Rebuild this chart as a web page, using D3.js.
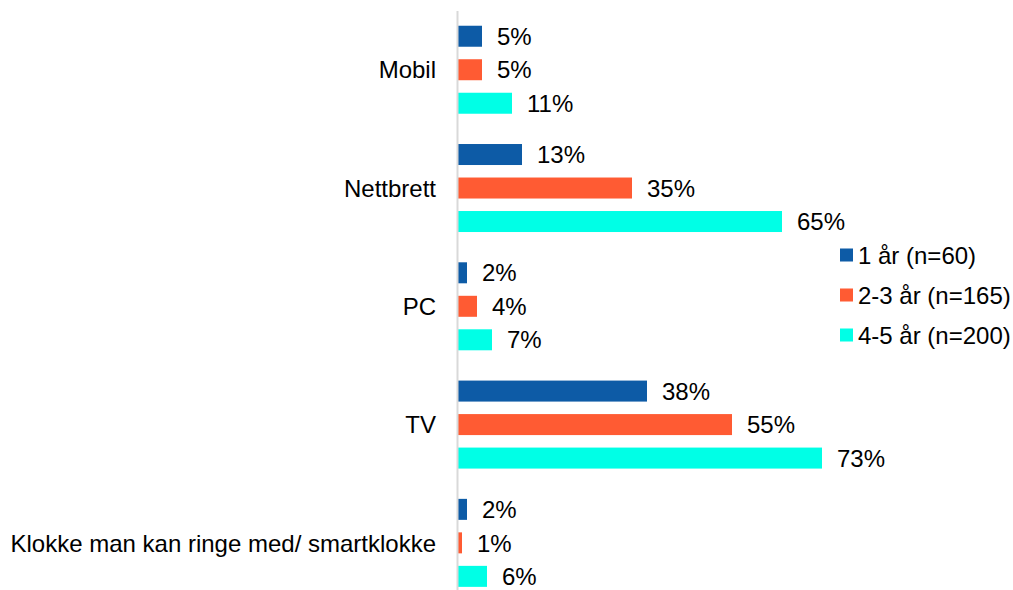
<!DOCTYPE html>
<html>
<head>
<meta charset="utf-8">
<script src="https://cdn.jsdelivr.net/npm/d3@7"></script>
<style>
  body { margin: 0; background: #fff; }
  text { font-family: "Liberation Sans", Arial, sans-serif; fill: #000; }
</style>
</head>
<body>
<div id="chart"></div>
<script>
var categories = ['Mobil', 'Nettbrett', 'PC', 'TV', 'Klokke man kan ringe med/ smartklokke'];
var seriesNames = ['1 år (n=60)', '2-3 år (n=165)', '4-5 år (n=200)'];
var ar1 = [5, 13, 2, 38, 2];
var ar23 = [5, 35, 4, 55, 1];
var ar45 = [11, 65, 7, 73, 6];
var colors = ['#0D5BA6', '#FF5B33', '#00FFE6'];

var width = 1013, height = 590;
var seriesValues = [ar1, ar23, ar45];
var fontSize = '24px';

var svg = d3.select('#chart')
    .append('svg')
    .attr('width', width)
    .attr('height', height);

var x = d3.scaleLinear().domain([0, 100]).range([457, 957]);
var y = d3.scaleBand().domain(categories).range([10.6, 602]).padding(0);
var inner = d3.scalePoint().domain(seriesNames).range([-33.5, 33.5]);
var barH = 21;

var rows = [];
categories.forEach(function (c, i) {
    seriesNames.forEach(function (s, j) {
        rows.push({ cat: c, series: s, idx: j, value: seriesValues[j][i] });
    });
});

function cy(d) { return y(d.cat) + y.bandwidth() / 2 + inner(d.series); }

svg.selectAll('rect.bar')
    .data(rows)
    .enter()
    .append('rect')
    .attr('class', 'bar')
    .attr('x', x(0))
    .attr('y', function (d) { return cy(d) - barH / 2; })
    .attr('width', function (d) { return x(d.value) - x(0); })
    .attr('height', barH)
    .attr('fill', function (d) { return colors[d.idx]; });

svg.selectAll('text.val')
    .data(rows)
    .enter()
    .append('text')
    .attr('class', 'val')
    .attr('x', function (d) { return x(d.value) + 15; })
    .attr('y', function (d) { return cy(d); })
    .attr('dy', '0.36em')
    .style('font-size', fontSize)
    .text(function (d) { return d.value + '%'; });

// category axis
var yAxis = d3.axisLeft(y).tickSize(0).tickPadding(21);
var gAxis = svg.append('g')
    .attr('transform', 'translate(' + x(0) + ',0)')
    .call(yAxis);
gAxis.attr('font-family', null);
gAxis.select('.domain').attr('stroke', '#d9d9d9').attr('stroke-width', 2);
gAxis.selectAll('text').style('font-size', fontSize).attr('dy', '0.36em');

// legend
var legend = svg.append('g').attr('transform', 'translate(840,255)');
var item = legend.selectAll('g')
    .data(seriesNames)
    .enter()
    .append('g')
    .attr('transform', function (d, i) { return 'translate(0,' + (i * 40) + ')'; });
item.append('rect')
    .attr('x', 0).attr('y', -6.5)
    .attr('width', 13).attr('height', 13)
    .attr('fill', function (d, i) { return colors[i]; });
item.append('text')
    .attr('x', 18)
    .attr('dy', '0.36em')
    .style('font-size', fontSize)
    .text(function (d) { return d; });
</script>
</body>
</html>
